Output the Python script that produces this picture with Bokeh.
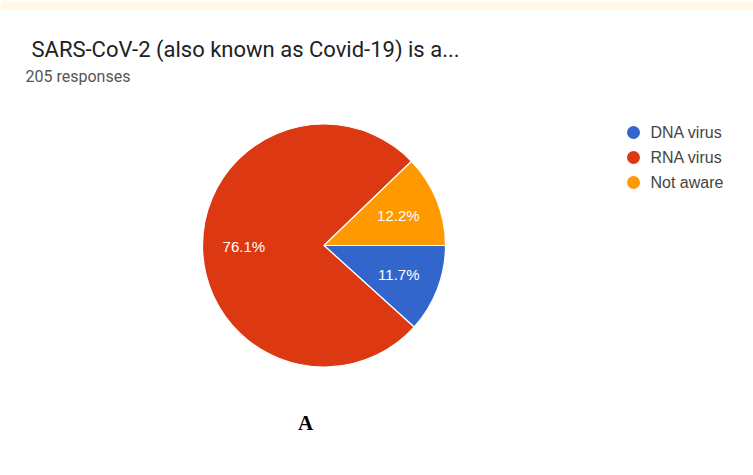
import math
from bokeh.plotting import figure
from bokeh.models import Range1d, ColumnDataSource
from bokeh.core.properties import value
from bokeh.embed import file_html
from bokeh.resources import INLINE

# ---- data ----
title = "SARS-CoV-2 (also known as Covid-19) is a..."
subtitle = "205 responses"
categories = ["DNA virus", "RNA virus", "Not aware"]
counts = [24, 156, 25]
colors = ["#3366CC", "#DC3912", "#FF9900"]
panel_label = "A"

# ---- layout constants (screen pixel coordinates) ----
W, H = 753, 475
CREAM = "#FFF9E5"

def sy(y):
    # screen y -> data y (data y grows upward)
    return H - y

cx, cy = 323.5, sy(245)
r = 121.5

p = figure(width=W, height=H, output_backend="svg", toolbar_location=None,
           x_range=Range1d(0, W), y_range=Range1d(0, H),
           x_axis_location=None, y_axis_location=None, min_border=0)
p.grid.visible = False
p.outline_line_color = None
p.background_fill_color = "white"
p.border_fill_color = "white"

# cream strip along the top
p.quad(left=[0], right=[W], bottom=[sy(10)], top=[H],
       fill_color=CREAM, line_color=None)

total = sum(counts)
fracs = [c / total for c in counts]
starts, ends, lx, ly, labels = [], [], [], [], []
cum = 0.0
for f in fracs:
    a0 = cum * 2 * math.pi
    a1 = (cum + f) * 2 * math.pi
    # slices run clockwise from 3 o'clock
    starts.append(-a1)
    ends.append(-a0)
    mid = -(a0 + a1) / 2
    lx.append(cx + 0.66 * r * math.cos(mid))
    ly.append(cy + 0.66 * r * math.sin(mid))
    labels.append(f"{f * 100:.1f}%")
    cum += f

src = ColumnDataSource(dict(start=starts, end=ends, color=colors, lx=lx, ly=ly, label=labels))
p.wedge(x=cx, y=cy, radius=r, start_angle="start", end_angle="end",
        fill_color="color", line_color="white", line_width=1.2, source=src)
p.text(x="lx", y="ly", text="label", source=src, text_color="white",
       text_font=value("Liberation Sans"), text_font_size="15px",
       text_align="center", text_baseline="middle")

# title & subtitle
p.text(x=[31], y=[sy(49)], text=[title], text_font=value("Roboto"),
       text_font_size="22px", text_color="#202124", text_align="left",
       text_baseline="alphabetic")
p.text(x=[25], y=[sy(76)], text=[subtitle], text_font=value("Roboto"),
       text_font_size="16px", text_color="#555555", text_align="left",
       text_baseline="alphabetic")

# legend
leg_y = [sy(132 + 25 * i) for i in range(len(categories))]
p.scatter(x=[633] * len(categories), y=leg_y, size=13, fill_color=colors,
          line_color=None)
p.text(x=[650] * len(categories), y=leg_y, text=categories,
       text_font=value("Liberation Sans"), text_font_size="16px",
       text_color="#444444", text_align="left", text_baseline="middle")

# panel label
p.text(x=[305], y=[sy(422)], text=[panel_label], text_font=value("Liberation Serif"),
       text_font_size="21px", text_font_style="bold", text_color="#000000",
       text_align="center", text_baseline="middle")

open("out.html", "w").write(file_html(p, INLINE))
